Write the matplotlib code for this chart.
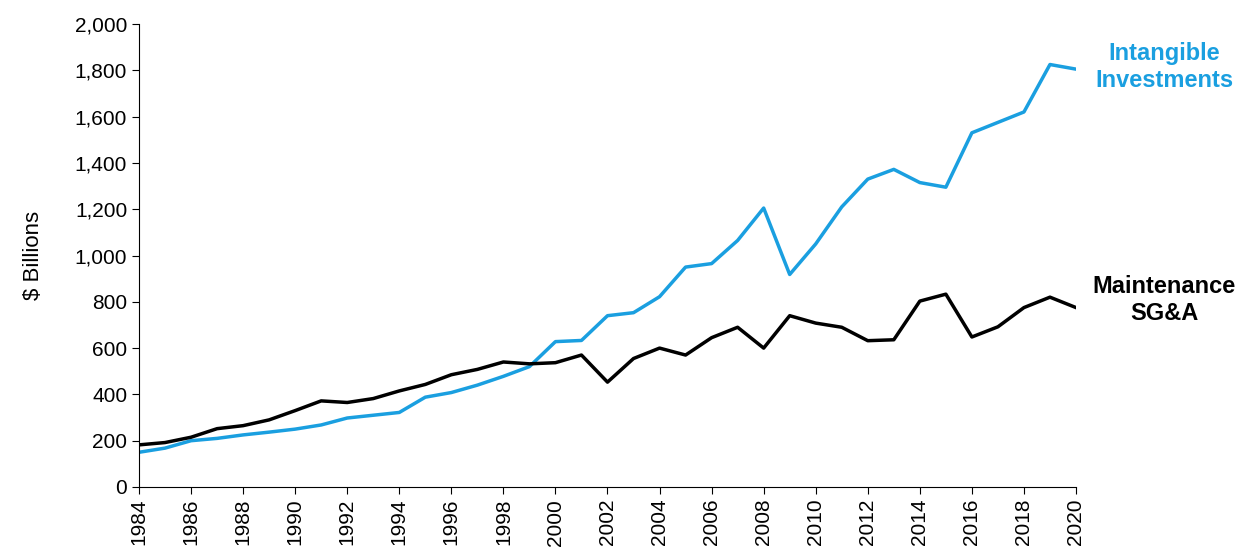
import matplotlib.pyplot as plt
import numpy as np

years = np.arange(1984, 2021)
intangible = [150, 168, 200, 210, 225, 237, 250, 268, 298, 310, 322, 388, 408, 440, 478, 520,
              628, 633, 740, 753, 822, 950, 965, 1065, 1205, 918, 1050, 1210, 1330, 1372, 1315,
              1295, 1530, 1575, 1620, 1825, 1805]
maintenance = [182, 192, 215, 252, 265, 290, 330, 372, 365, 382, 415, 443, 485, 508, 540, 532,
               537, 570, 453, 555, 600, 570, 645, 690, 600, 740, 708, 690, 632, 636, 803,
               833, 648, 692, 775, 820, 775]

plt.rcParams['font.family'] = ['Liberation Sans', 'DejaVu Sans']
fig = plt.figure(figsize=(12.48, 5.52), dpi=100)
ax = fig.add_axes([139/1248, 1-487/552, (1076-139)/1248, (487-24)/552])

blue = '#1a9fe0'
ax.plot(years, intangible, color=blue, lw=2.5)
ax.plot(years, maintenance, color='black', lw=2.5)

ax.set_xlim(1984, 2020)
ax.set_ylim(0, 2000)
ax.set_xticks(np.arange(1984, 2021, 2))
ax.set_xticklabels([str(y) for y in range(1984, 2021, 2)], rotation=90, fontsize=15)
ax.set_yticks(np.arange(0, 2001, 200))
ax.set_yticklabels([f'{v:,}' for v in range(0, 2001, 200)], fontsize=15)
ax.set_ylabel('$ Billions', fontsize=16, labelpad=22)
for s in ['top', 'right']:
    ax.spines[s].set_visible(False)
ax.tick_params(direction='out', length=5)

# labels placed in figure inches
fig.text(1164/1248, 1-67/552, 'Intangible\nInvestments', color=blue, fontsize=17,
         fontweight='bold', ha='center', va='center')
fig.text(1164/1248, 1-300/552, 'Maintenance\nSG&A', color='black', fontsize=17,
         fontweight='bold', ha='center', va='center')

fig.savefig('out.png', dpi=100)
